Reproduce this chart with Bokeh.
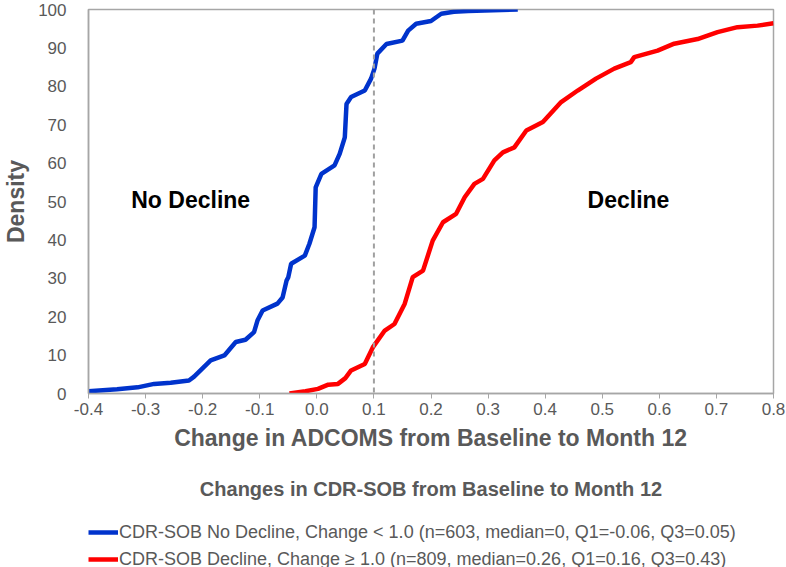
from bokeh.plotting import figure
from bokeh.layouts import column
from bokeh.models import (FixedTicker, PrintfTickFormatter, Span, Label, Title,
                          Legend, LegendItem, Range1d)
from bokeh.embed import file_html
from bokeh.resources import INLINE

no_decline_x = [-0.40, -0.35, -0.314, -0.285, -0.256, -0.224, -0.215, -0.186, -0.162, -0.142,
                -0.125, -0.110, -0.104, -0.095, -0.069, -0.060, -0.053, -0.050, -0.045, -0.021,
                -0.013, -0.004, -0.002, 0.008, 0.031, 0.040, 0.049, 0.052, 0.060, 0.084,
                0.095, 0.101, 0.106, 0.122, 0.150, 0.160, 0.174, 0.200, 0.218, 0.240,
                0.265, 0.352]
no_decline_y = [0.6, 1.1, 1.6, 2.5, 2.8, 3.4, 4.4, 8.6, 9.9, 13.4,
                14.0, 16.0, 19.0, 21.6, 23.4, 25.0, 29.4, 30.3, 33.8, 35.9,
                39.0, 43.3, 53.7, 57.2, 59.4, 62.4, 66.7, 75.4, 77.2, 78.9,
                82.0, 84.6, 88.5, 91.0, 91.9, 94.5, 96.3, 97.0, 98.9, 99.4,
                99.6, 100.0]

decline_x = [-0.048, -0.02, 0.002, 0.02, 0.037, 0.05, 0.060, 0.084, 0.098, 0.119,
             0.136, 0.154, 0.168, 0.186, 0.203, 0.221, 0.244, 0.259, 0.276, 0.291,
             0.311, 0.326, 0.346, 0.367, 0.396, 0.428, 0.457, 0.489, 0.521, 0.550,
             0.556, 0.597, 0.626, 0.667, 0.702, 0.737, 0.772, 0.800]
decline_y = [0.0, 0.6, 1.2, 2.3, 2.5, 4.0, 6.0, 7.7, 12.0, 16.4,
             18.1, 23.4, 30.3, 32.0, 39.8, 44.6, 46.8, 51.1, 54.6, 55.9,
             60.7, 62.8, 64.1, 68.5, 70.7, 75.9, 78.9, 82.0, 84.6, 86.3,
             87.6, 89.3, 91.1, 92.3, 94.1, 95.4, 95.8, 96.4]

x_ticks = [-0.4, -0.3, -0.2, -0.1, 0.0, 0.1, 0.2, 0.3, 0.4, 0.5, 0.6, 0.7, 0.8]
y_ticks = [0, 10, 20, 30, 40, 50, 60, 70, 80, 90, 100]
threshold = 0.1

legend_labels = [
    "CDR-SOB No Decline, Change < 1.0 (n=603, median=0, Q1=-0.06, Q3=0.05)",
    "CDR-SOB Decline, Change \u2265 1.0 (n=809, median=0.26, Q1=0.16, Q3=0.43)",
]
FONT = "Liberation Sans"
GRAY = "#595959"
BLUE = "#0033CC"
RED = "#FF0000"
FW = 685

p = figure(frame_width=FW, frame_height=384, output_backend="svg", toolbar_location=None,
           x_range=Range1d(-0.4, 0.8), y_range=Range1d(0, 100),
           min_border_top=9, min_border_right=12, min_border_left=79, min_border_bottom=0)
p.grid.visible = False
p.outline_line_color = "#A6A6A6"
p.outline_line_width = 1.5
p.background_fill_color = "white"
p.border_fill_color = "white"

xa = p.xaxis[0]
xa.ticker = FixedTicker(ticks=x_ticks)
xa.formatter = PrintfTickFormatter(format="%.1f")
xa.axis_line_color = "#A6A6A6"
xa.axis_line_width = 1.5
xa.major_tick_line_color = "#A6A6A6"
xa.major_tick_out = 5
xa.major_tick_in = 0
xa.minor_tick_line_color = None
xa.major_label_text_font = FONT
xa.major_label_text_font_size = "17px"
xa.major_label_text_color = GRAY
xa.major_label_standoff = 4
xa.axis_label = "Change in ADCOMS from Baseline to Month 12"
xa.axis_label_text_font = FONT
xa.axis_label_text_font_size = "23px"
xa.axis_label_text_font_style = "bold"
xa.axis_label_text_color = GRAY
xa.axis_label_standoff = 7

ya = p.yaxis[0]
ya.ticker = FixedTicker(ticks=y_ticks)
ya.axis_line_color = "#A6A6A6"
ya.axis_line_width = 1.5
ya.major_tick_line_color = None
ya.minor_tick_line_color = None
ya.major_label_text_font = FONT
ya.major_label_text_font_size = "17px"
ya.major_label_text_color = GRAY
ya.major_label_standoff = 16
ya.axis_label = "Density"
ya.axis_label_text_font = FONT
ya.axis_label_text_font_size = "23px"
ya.axis_label_text_font_style = "bold"
ya.axis_label_text_color = GRAY
ya.axis_label_standoff = 6

p.add_layout(Span(location=threshold, dimension="height", line_color="#A0A0A0",
                  line_width=2, line_dash="5 4"))

r1 = p.line(no_decline_x, no_decline_y, line_color=BLUE, line_width=4.5)
r2 = p.line(decline_x, decline_y, line_color=RED, line_width=4.5)

p.add_layout(Label(x=-0.221, y=50.3, text="No Decline", text_font=FONT, text_font_size="23px",
                   text_font_style="bold", text_color="black", text_align="center",
                   text_baseline="middle"))
p.add_layout(Label(x=0.546, y=50.3, text="Decline", text_font=FONT, text_font_size="23px",
                   text_font_style="bold", text_color="black", text_align="center",
                   text_baseline="middle"))

sub = Title(text="Changes in CDR-SOB from Baseline to Month 12", align="center",
            text_font=FONT, text_font_size="20px", text_font_style="bold",
            text_color=GRAY, standoff=44)
p.add_layout(sub, "below")

# legend strip below the chart (its lines sit outside its visible range; only keys show)
lf = figure(frame_width=FW, frame_height=52, output_backend="svg", toolbar_location=None,
            x_range=Range1d(-0.4, 0.8), y_range=Range1d(1000, 1001),
            min_border_top=0, min_border_right=12, min_border_left=79, min_border_bottom=0)
lf.axis.visible = False
lf.grid.visible = False
lf.outline_line_color = None
lf.border_fill_color = "white"
l1 = lf.line(no_decline_x, no_decline_y, line_color=BLUE, line_width=4.5)
l2 = lf.line(decline_x, decline_y, line_color=RED, line_width=4.5)
legend = Legend(items=[LegendItem(label=legend_labels[0], renderers=[l1]),
                       LegendItem(label=legend_labels[1], renderers=[l2])],
                location=(0, 3), orientation="vertical",
                label_text_font=FONT, label_text_font_size="18px", label_text_color=GRAY,
                glyph_width=30, glyph_height=22, label_height=22, spacing=5,
                label_standoff=1, padding=0, margin=0, border_line_color=None,
                background_fill_alpha=0)
lf.add_layout(legend, "center")

layout = column(p, lf, spacing=0)
open("out.html", "w").write(file_html(layout, INLINE))
